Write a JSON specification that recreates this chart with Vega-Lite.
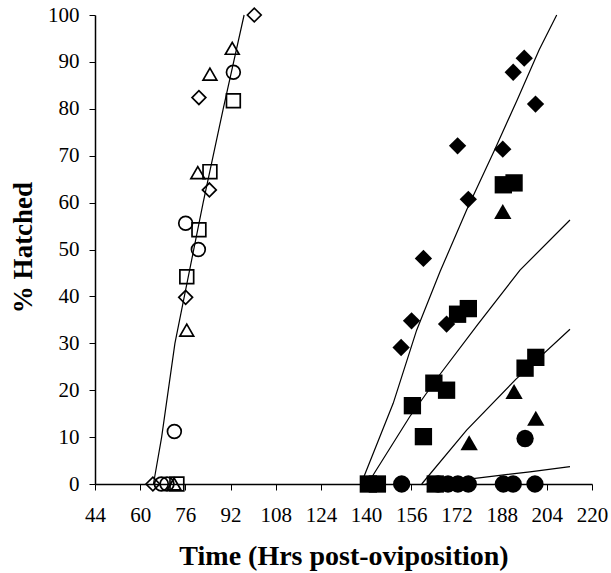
{
  "$schema": "https://vega.github.io/schema/vega-lite/v6.json",
  "width": 497,
  "height": 469,
  "autosize": {"type": "none"},
  "padding": {"left": 95, "top": 15, "right": 19, "bottom": 89},
  "config": {"view": {"stroke": null}, "font": "Liberation Serif"},
  "datasets": {
    "lines": [
      {"line": "L1", "t": 64.7, "pct": 0}, {"line": "L1", "t": 67.6, "pct": 10}, {"line": "L1", "t": 72.3, "pct": 30}, {"line": "L1", "t": 82.3, "pct": 60}, {"line": "L1", "t": 89.4, "pct": 80}, {"line": "L1", "t": 96.8, "pct": 100},
      {"line": "L2", "t": 138.2, "pct": 0}, {"line": "L2", "t": 149.6, "pct": 17.2}, {"line": "L2", "t": 157.9, "pct": 32.8}, {"line": "L2", "t": 166.2, "pct": 45.3}, {"line": "L2", "t": 175.6, "pct": 58.4}, {"line": "L2", "t": 185.5, "pct": 71.2}, {"line": "L2", "t": 193.5, "pct": 81.9}, {"line": "L2", "t": 201.3, "pct": 92.6}, {"line": "L2", "t": 207.5, "pct": 100},
      {"line": "L3", "t": 140.5, "pct": 0}, {"line": "L3", "t": 155.5, "pct": 14.4}, {"line": "L3", "t": 166.2, "pct": 23.4}, {"line": "L3", "t": 179.5, "pct": 34}, {"line": "L3", "t": 194.5, "pct": 45.6}, {"line": "L3", "t": 212.2, "pct": 56.3},
      {"line": "L4", "t": 159.7, "pct": 0}, {"line": "L4", "t": 175.6, "pct": 11.5}, {"line": "L4", "t": 193, "pct": 22.3}, {"line": "L4", "t": 212.2, "pct": 33},
      {"line": "L5", "t": 161, "pct": 0}, {"line": "L5", "t": 178.6, "pct": 1.2}, {"line": "L5", "t": 198, "pct": 2.6}, {"line": "L5", "t": 212.2, "pct": 3.7}
    ],
    "points": [
      {"stage": "open", "series": "diamond", "t": 100.4, "pct": 100},
      {"stage": "open", "series": "diamond", "t": 80.8, "pct": 82.4},
      {"stage": "open", "series": "diamond", "t": 84.5, "pct": 62.7},
      {"stage": "open", "series": "diamond", "t": 76.1, "pct": 39.8},
      {"stage": "open", "series": "diamond", "t": 64.5, "pct": 0},
      {"stage": "open", "series": "triangle", "t": 92.6, "pct": 92.9},
      {"stage": "open", "series": "triangle", "t": 84.7, "pct": 87.4},
      {"stage": "open", "series": "triangle", "t": 80.4, "pct": 66.4},
      {"stage": "open", "series": "triangle", "t": 76.5, "pct": 32.8},
      {"stage": "open", "series": "triangle", "t": 72, "pct": 0},
      {"stage": "open", "series": "circle", "t": 93, "pct": 87.8},
      {"stage": "open", "series": "circle", "t": 76.1, "pct": 55.6},
      {"stage": "open", "series": "circle", "t": 80.6, "pct": 50},
      {"stage": "open", "series": "circle", "t": 72.1, "pct": 11.2},
      {"stage": "open", "series": "circle", "t": 67.5, "pct": 0},
      {"stage": "open", "series": "circle", "t": 69.5, "pct": 0},
      {"stage": "open", "series": "square", "t": 93, "pct": 81.7},
      {"stage": "open", "series": "square", "t": 84.7, "pct": 66.6},
      {"stage": "open", "series": "square", "t": 80.8, "pct": 54.2},
      {"stage": "open", "series": "square", "t": 76.5, "pct": 44.2},
      {"stage": "open", "series": "square", "t": 73, "pct": 0},
      {"stage": "filled", "series": "diamond", "t": 196, "pct": 90.8},
      {"stage": "filled", "series": "diamond", "t": 192.1, "pct": 87.8},
      {"stage": "filled", "series": "diamond", "t": 200, "pct": 81},
      {"stage": "filled", "series": "diamond", "t": 172.4, "pct": 72.1},
      {"stage": "filled", "series": "diamond", "t": 188.4, "pct": 71.4},
      {"stage": "filled", "series": "diamond", "t": 176.2, "pct": 60.7},
      {"stage": "filled", "series": "diamond", "t": 160.3, "pct": 48.1},
      {"stage": "filled", "series": "diamond", "t": 156.1, "pct": 34.8},
      {"stage": "filled", "series": "diamond", "t": 152.4, "pct": 29.1},
      {"stage": "filled", "series": "diamond", "t": 168.5, "pct": 34.1},
      {"stage": "filled", "series": "square", "t": 188.6, "pct": 63.8},
      {"stage": "filled", "series": "square", "t": 192.4, "pct": 64.2},
      {"stage": "filled", "series": "square", "t": 172.4, "pct": 36.2},
      {"stage": "filled", "series": "square", "t": 176.2, "pct": 37.4},
      {"stage": "filled", "series": "square", "t": 164, "pct": 21.5},
      {"stage": "filled", "series": "square", "t": 168.5, "pct": 20},
      {"stage": "filled", "series": "square", "t": 156.4, "pct": 16.7},
      {"stage": "filled", "series": "square", "t": 160.3, "pct": 10.1},
      {"stage": "filled", "series": "square", "t": 196.3, "pct": 24.7},
      {"stage": "filled", "series": "square", "t": 200.1, "pct": 27},
      {"stage": "filled", "series": "square", "t": 140.8, "pct": 0},
      {"stage": "filled", "series": "square", "t": 144, "pct": 0},
      {"stage": "filled", "series": "square", "t": 164.5, "pct": 0},
      {"stage": "filled", "series": "triangle", "t": 188.4, "pct": 58.1},
      {"stage": "filled", "series": "triangle", "t": 192.4, "pct": 19.7},
      {"stage": "filled", "series": "triangle", "t": 200.1, "pct": 14},
      {"stage": "filled", "series": "triangle", "t": 176.5, "pct": 8.8},
      {"stage": "filled", "series": "triangle", "t": 164.5, "pct": 0},
      {"stage": "filled", "series": "circle", "t": 196.3, "pct": 9.7},
      {"stage": "filled", "series": "circle", "t": 152.6, "pct": 0},
      {"stage": "filled", "series": "circle", "t": 165.5, "pct": 0},
      {"stage": "filled", "series": "circle", "t": 169, "pct": 0},
      {"stage": "filled", "series": "circle", "t": 172.5, "pct": 0},
      {"stage": "filled", "series": "circle", "t": 176.2, "pct": 0},
      {"stage": "filled", "series": "circle", "t": 188.6, "pct": 0},
      {"stage": "filled", "series": "circle", "t": 192.1, "pct": 0},
      {"stage": "filled", "series": "circle", "t": 199.8, "pct": 0}
    ]
  },
  "encoding": {
    "x": {
      "field": "t", "type": "quantitative",
      "scale": {"domain": [44, 220], "nice": false, "zero": false},
      "axis": {
        "values": [44, 60, 76, 92, 108, 124, 140, 156, 172, 188, 204, 220],
        "title": "Time (Hrs post-oviposition)",
        "titleFont": "Liberation Serif", "titleFontSize": 28, "titleFontWeight": "bold", "titleColor": "black",
        "titleY": 80, "titleBaseline": "alphabetic",
        "labelFont": "Liberation Serif", "labelFontSize": 21, "labelColor": "black",
        "labelPadding": 14, "labelFlush": false, "labelOverlap": false, "labelBound": false,
        "tickSize": 6, "tickColor": "black", "tickWidth": 1,
        "domainColor": "black", "domainWidth": 1.5, "grid": false
      }
    },
    "y": {
      "field": "pct", "type": "quantitative",
      "scale": {"domain": [0, 100], "nice": false},
      "axis": {
        "values": [0, 10, 20, 30, 40, 50, 60, 70, 80, 90, 100],
        "title": "% Hatched",
        "titleFont": "Liberation Serif", "titleFontSize": 27, "titleFontWeight": "bold", "titleColor": "black",
        "titleX": -63.5, "titleY": 232, "titleBaseline": "alphabetic", "titleAlign": "center", "titleAngle": -90,
        "labelFont": "Liberation Serif", "labelFontSize": 21, "labelColor": "black",
        "labelPadding": 10, "labelOverlap": false, "labelBound": false,
        "tickSize": 6, "tickColor": "black", "tickWidth": 1,
        "domainColor": "black", "domainWidth": 1.5, "grid": false
      }
    }
  },
  "layer": [
    {
      "data": {"name": "lines"},
      "mark": {"type": "line", "color": "black", "strokeWidth": 1.2},
      "encoding": {"detail": {"field": "line"}}
    },
    {
      "data": {"name": "points"},
      "transform": [{"filter": "datum.stage == 'open'"}],
      "mark": {"type": "point", "filled": false, "stroke": "black", "strokeWidth": 1.7, "size": 190, "opacity": 1},
      "encoding": {
        "shape": {"field": "series", "type": "nominal", "scale": {"domain": ["diamond", "square", "triangle", "circle"], "range": ["diamond", "square", "triangle-up", "circle"]}, "legend": null}
      }
    },
    {
      "data": {"name": "points"},
      "transform": [{"filter": "datum.stage == 'filled'"}],
      "mark": {"type": "point", "filled": true, "fill": "black", "size": 300, "opacity": 1},
      "encoding": {
        "shape": {"field": "series", "type": "nominal", "scale": {"domain": ["diamond", "square", "triangle", "circle"], "range": ["diamond", "square", "triangle-up", "circle"]}, "legend": null}
      }
    }
  ]
}
